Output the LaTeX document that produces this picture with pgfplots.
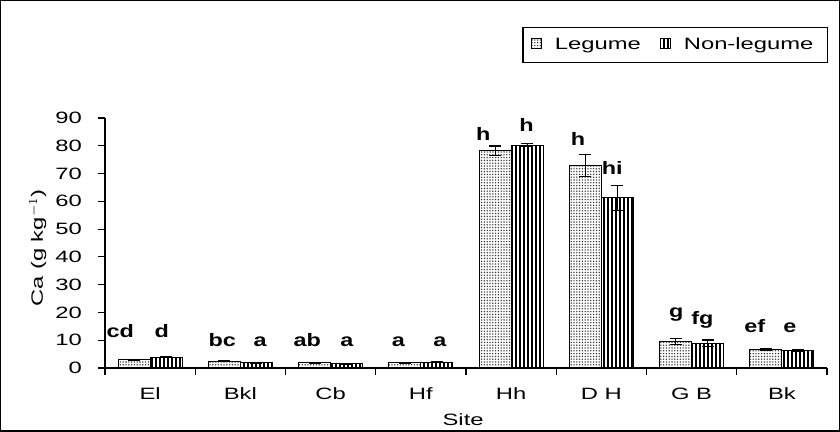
\documentclass[border=0pt]{standalone}
\usepackage{pgfplots}
\pgfplotsset{compat=1.18}
\usepackage{pgfplotstable}
\usetikzlibrary{patterns.meta}
\usepackage{fontspec}
\setmainfont[FakeStretch=1.45]{Liberation Sans}
\newfontfamily\lettfont[FakeStretch=1.3]{Liberation Sans}

\pgfplotstableread{
x leg legerr non nonerr
0 3.0 0.2 3.9 0.2
1 2.4 0.2 1.9 0.1
2 1.8 0.1 1.5 0.1
3 1.8 0.1 2.1 0.1
4 78.2 1.7 80.2 0.6
5 72.8 4.0 61.2 4.4
6 9.5 1.0 8.9 1.2
7 6.8 0.3 6.2 0.4
}\data

\pgfplotstableread{
lx ly lab
-0.33 10.8 cd
0.13 10.8 d
0.80 7.9 bc
1.22 7.9 a
1.74 7.9 ab
2.18 7.9 a
2.75 7.9 a
3.21 7.9 a
3.69 82 h
4.17 85 h
4.74 80 h
5.12 69.8 hi
5.83 18 g
6.12 15.8 fg
6.70 12.6 ef
7.09 12.6 e
}\labels

\begin{document}
\begin{tikzpicture}
\useasboundingbox (0,0) rectangle (420pt,216pt);
\draw[line width=0.7pt] (0.4pt,0.4pt) rectangle (419.6pt,215.6pt);
\begin{axis}[
  at={(52.5pt,32pt)}, anchor=south west,
  width=361pt, height=125pt, scale only axis,
  xmin=-0.5, xmax=7.5, ymin=0, ymax=90,
  axis x line*=bottom, axis y line*=left,
  axis line style={-, line width=0.6pt},
  xtick={0,...,7},
  xticklabels={El,Bkl,Cb,Hf,Hh,D H,G B,Bk},
  major x tick style={draw=none},
  minor xtick={-0.5,0.5,...,7.5},
  ytick={0,10,...,90},
  tick align=outside,
  major tick length=3.5pt, minor tick length=3.5pt,
  tick style={black, line width=0.6pt},
  /pgf/number format/assume math mode=true,
  tick label style={font=\fontsize{8.2}{9.5}\selectfont},
  x tick label style={yshift=-3pt},
  y tick label style={xshift=-4.5pt},
  label style={font=\fontsize{8.2}{9.5}\selectfont},
  xlabel={Site},
  ylabel={Ca (g kg$^{-1}$)},
  xlabel style={at={(axis description cs:0.496,-0.208)}, anchor=center},
  ylabel style={at={(axis description cs:-0.093,0.48)}, anchor=center},
  legend style={at={(axis description cs:1.0014,1.364)}, anchor=north east,
    legend columns=2, draw=black, line width=0.6pt,
    font=\fontsize{8.2}{9.5}\selectfont, inner xsep=4pt, inner ysep=3pt,
    column sep=4.5pt},
  legend image code/.code={\draw[#1] (0pt,-1.8pt) rectangle (5pt,3.2pt);},
]
\addplot[ybar, bar width=16pt, bar shift=0pt, draw=black, line width=0.5pt,
  fill=white, postaction={pattern={Dots[distance=1.4pt, radius=0.38pt]}, pattern color=black!80},
  error bars/.cd, y dir=both, y explicit,
  error bar style={black, line width=0.6pt},
  error mark options={rotate=90, mark size=3pt, line width=0.6pt}]
  table[x expr=\thisrow{x}-0.1773, y=leg, y error=legerr]{\data};
\addlegendentry{Legume\rule{3pt}{0pt}}
\addplot[ybar, bar width=16pt, bar shift=0pt, draw=black, line width=0.5pt,
  fill=white, postaction={pattern={Lines[angle=90, distance=2pt, line width=0.6pt]}, pattern color=black},
  error bars/.cd, y dir=both, y explicit,
  error bar style={black, line width=0.6pt},
  error mark options={rotate=90, mark size=3pt, line width=0.6pt}]
  table[x expr=\thisrow{x}+0.1773, y=non, y error=nonerr]{\data};
\addlegendentry{Non-legume\rule{1pt}{0pt}}
\addplot[draw=none, mark=none, forget plot, nodes near coords, point meta=explicit symbolic,
  nodes near coords style={anchor=base, inner sep=0pt, font=\lettfont\bfseries\fontsize{9}{10}\selectfont}]
  table[x=lx, y=ly, meta=lab]{\labels};
\end{axis}
\end{tikzpicture}
\end{document}
